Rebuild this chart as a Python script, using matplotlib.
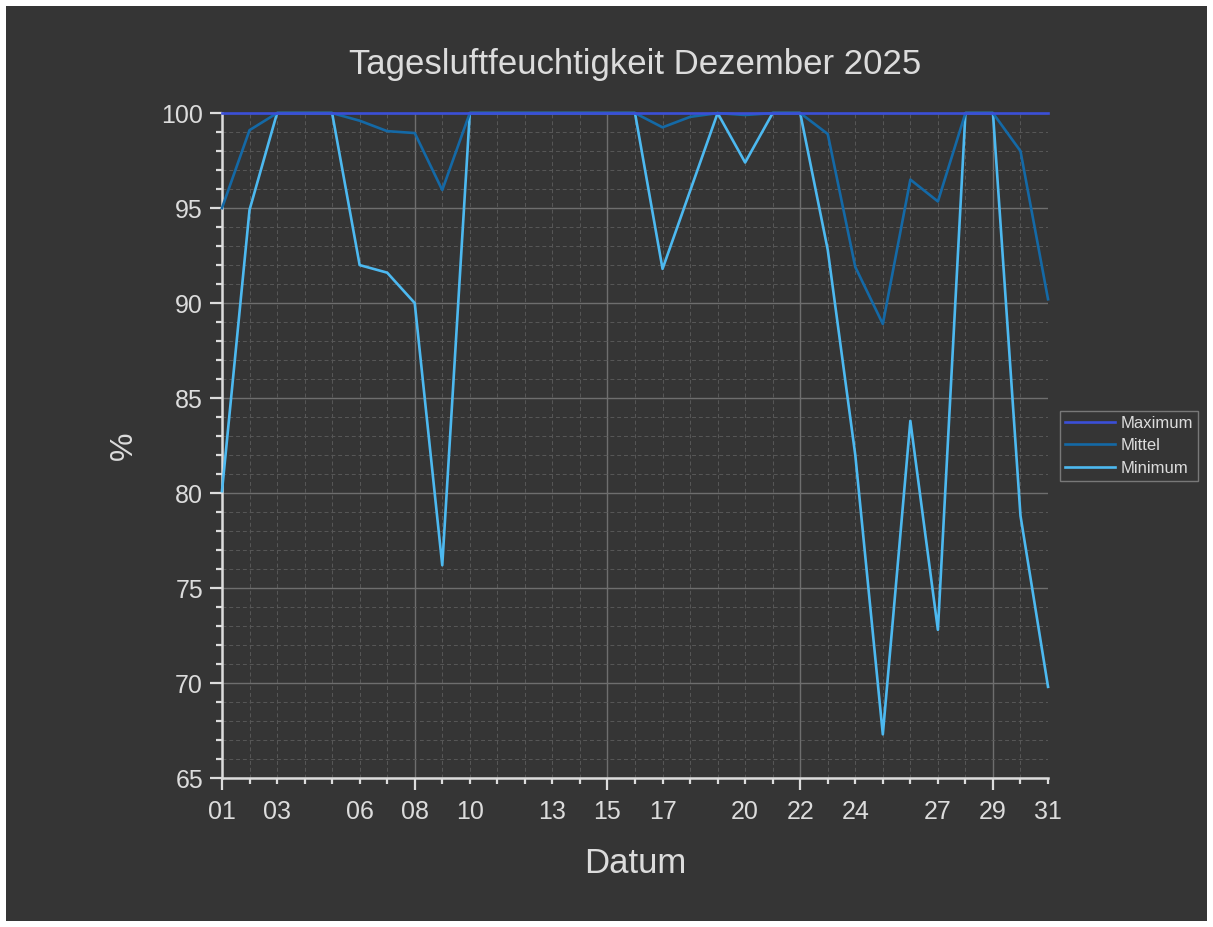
#!/usr/bin/env python3
# Tagesluftfeuchtigkeit Dezember 2025

import numpy as np
from matplotlib import pyplot as plt
from matplotlib.ticker import MultipleLocator, FuncFormatter

plt.rcParams.update({
    "font.family": ["Liberation Sans", "DejaVu Sans"],
})

days = list(range(1, 32))
maximum = [100] * 31
mittel = [95.0, 99.1, 100, 100, 100, 99.6, 99.05, 98.95, 95.95, 100,
          100, 100, 100, 100, 100, 100, 99.25, 99.8, 100, 99.9,
          100, 100, 98.9, 91.9, 88.9, 96.5, 95.35, 100, 100, 98.0, 90.2]
minimum = [80.1, 94.9, 100, 100, 100, 92.0, 91.6, 90.0, 76.2, 100,
           100, 100, 100, 100, 100, 100, 91.8, 95.9, 100, 97.4,
           100, 100, 92.8, 82.0, 67.3, 83.8, 72.8, 100, 100, 78.8, 69.8]
week_days = [1, 8, 15, 22, 29]
label_days = [1, 3, 6, 8, 10, 13, 15, 17, 20, 22, 24, 27, 29, 31]

bg = "#353535"
fg = "#dcdcdc"

fig = plt.figure(figsize=(12.13, 9.27), dpi=100)
fig.patch.set_facecolor(bg)
fig.patch.set_edgecolor("white")
fig.patch.set_linewidth(8.6)
ax = fig.add_axes([0.183, 0.1607, 0.681, 0.7173])
ax.set_facecolor(bg)

ax.plot(days, maximum, color="#3b4fd8", lw=1.9, label="Maximum", clip_on=False, zorder=5)
ax.plot(days, mittel, color="#1469a6", lw=1.9, label="Mittel", clip_on=False, zorder=4)
ax.plot(days, minimum, color="#4db9f0", lw=1.9, label="Minimum", clip_on=False, zorder=3)

ax.set_xlim(1, 31)
ax.set_ylim(65, 100)

ax.set_xticks(week_days)
ax.set_xticklabels(["%02d" % d for d in week_days])
ax.set_xticks(days, minor=True)
ax.xaxis.set_minor_formatter(FuncFormatter(
    lambda v, p: "%02d" % int(round(v)) if int(round(v)) in label_days else ""))
ax.yaxis.set_major_locator(MultipleLocator(5))
ax.yaxis.set_minor_locator(MultipleLocator(1))

ax.tick_params(which="both", colors=fg, labelsize=18, width=1.6, direction="out")
ax.tick_params(which="major", length=8.6)
ax.tick_params(which="minor", length=4.3)
ax.tick_params(axis="x", which="major", pad=7)
ax.tick_params(axis="x", which="minor", pad=7 + 4.3)
ax.tick_params(axis="y", which="major", pad=5)

ax.grid(which="major", color="#6e6e6e", lw=1.0, ls="-")
ax.grid(which="minor", color="#585858", lw=0.7, ls=(0, (4, 3)))
ax.set_axisbelow(True)

for s in ["top", "right"]:
    ax.spines[s].set_visible(False)
for s in ["left", "bottom"]:
    ax.spines[s].set_color(fg)
    ax.spines[s].set_linewidth(1.8)

ax.set_title("Tagesluftfeuchtigkeit Dezember 2025", color=fg, fontsize=25, pad=28)
ax.set_xlabel("Datum", color=fg, fontsize=25, labelpad=17)
ax.set_ylabel("%", color=fg, fontsize=23, labelpad=16)

leg = ax.legend(loc="center left", bbox_to_anchor=(1.015, 0.5), fontsize=12,
                frameon=True, fancybox=False, facecolor=bg, edgecolor="#8a8a8a",
                labelcolor=fg, handlelength=3.0, handletextpad=0.3,
                borderpad=0.3, labelspacing=0.45, borderaxespad=0)
leg.get_frame().set_linewidth(1.0)

plt.savefig("out.png", dpi=100, facecolor=fig.get_facecolor(), edgecolor="white")
